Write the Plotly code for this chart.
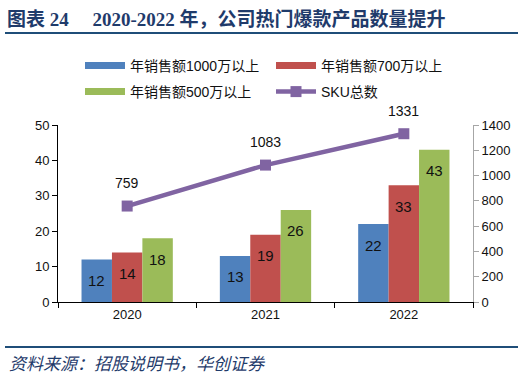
import plotly.graph_objects as go

years = ["2020", "2021", "2022"]
sales_1000 = [12, 13, 22]
sales_700 = [14, 19, 33]
sales_500 = [18, 26, 43]
sku_total = [759, 1083, 1331]

series_names = ["年销售额1000万以上", "年销售额700万以上", "年销售额500万以上"]
line_name = "SKU总数"
colors = ["#4F81BD", "#C0504D", "#9BBB59"]
purple = "#8064A2"

W, H = 524, 378
L, R, T, B = 58, 51, 125, 76
PW, PH = W - L - R, H - T - B


def px(x):
    return (x - L) / PW


def py(y):
    return (H - B - y) / PH


CJK = "Liberation Sans, Noto Sans CJK SC, sans-serif"

fig = go.Figure()
bar_sets = [sales_1000, sales_700, sales_500]
for name, vals, c in zip(series_names, bar_sets, colors):
    fig.add_trace(go.Bar(x=years, y=vals, name=name, marker=dict(color=c, line=dict(width=0)),
                         showlegend=False, yaxis="y"))

fig.add_trace(go.Scatter(x=years, y=sku_total, name=line_name, mode="lines+markers",
                         line=dict(color=purple, width=4.5),
                         marker=dict(symbol="square", size=11, color=purple),
                         yaxis="y2", showlegend=True, legend="legend2"))

# legend proxies (long thick swatches)
for i, (name, c) in enumerate(zip(series_names, colors)):
    fig.add_trace(go.Scatter(x=[None], y=[None], mode="lines", name=name,
                             line=dict(color=c, width=7), yaxis="y",
                             legend="legend" if i < 2 else "legend2",
                             legendrank=i))
fig.data[3].update(legendrank=10)

annotations = []
ngroups = len(bar_sets)
bargap = 0.34
bw = (1 - bargap) / ngroups
for j, vals in enumerate(bar_sets):
    for i, v in enumerate(vals):
        annotations.append(dict(x=i + (j - (ngroups - 1) / 2) * bw, y=v, xref="x", yref="y",
                                text=str(v), showarrow=False, yshift=-21,
                                font=dict(size=15, color="#111111", family="Liberation Sans")))
for i, v in enumerate(sku_total):
    annotations.append(dict(x=i, y=v, xref="x", yref="y2", text=str(v), showarrow=False, yshift=23,
                            font=dict(size=14, color="#111111", family="Liberation Sans")))

annotations.append(dict(x=px(5), y=py(19), xref="paper", yref="paper", xanchor="left", yanchor="middle",
                        text="<b>图表 24　 2020-2022 年，公司热门爆款产品数量提升</b>", showarrow=False,
                        font=dict(size=19, color="#1F3B6B", family="Liberation Serif, Noto Sans CJK SC")))
annotations.append(dict(x=px(7), y=py(362), xref="paper", yref="paper", xanchor="left", yanchor="middle",
                        text="<i>资料来源：招股说明书，华创证券</i>", showarrow=False,
                        font=dict(size=17, color="#1F3B6B", family="Noto Sans CJK SC")))

shapes = [
    dict(type="line", xref="paper", yref="paper", x0=px(5), x1=px(518), y0=py(33), y1=py(33),
         line=dict(color="#1F4E79", width=2)),
    dict(type="line", xref="paper", yref="paper", x0=px(5), x1=px(518), y0=py(347), y1=py(347),
         line=dict(color="#1F4E79", width=2)),
]

fig.update_layout(
    width=W, height=H,
    margin=dict(l=L, r=R, t=T, b=B),
    paper_bgcolor="white", plot_bgcolor="white",
    barmode="group", bargap=bargap, bargroupgap=0,
    font=dict(family=CJK, size=13, color="#111111"),
    xaxis=dict(type="category", showline=True, linecolor="black", linewidth=1,
               ticks="outside", tickson="boundaries", ticklen=5, tickcolor="black",
               tickfont=dict(size=13), showgrid=False),
    yaxis=dict(range=[0, 50], dtick=10, showline=True, linecolor="black", linewidth=1,
               ticks="outside", ticklen=5, tickcolor="black", showgrid=False, zeroline=False,
               tickfont=dict(size=13)),
    yaxis2=dict(range=[0, 1400], dtick=200, overlaying="y", side="right", showline=True,
                linecolor="#A6A6A6", linewidth=1, ticks="outside", ticklen=5, tickcolor="#A6A6A6",
                showgrid=False, zeroline=False, tickfont=dict(size=13)),
    legend=dict(orientation="h", x=px(80), y=py(66), xanchor="left", yanchor="middle",
                entrywidth=136, entrywidthmode="pixels", font=dict(size=14),
                bgcolor="rgba(0,0,0,0)", itemwidth=40, traceorder="normal"),
    legend2=dict(orientation="h", x=px(80), y=py(92), xanchor="left", yanchor="middle",
                 entrywidth=136, entrywidthmode="pixels", font=dict(size=14),
                 bgcolor="rgba(0,0,0,0)", itemwidth=40, traceorder="normal"),
    annotations=annotations,
    shapes=shapes,
    showlegend=True,
)

fig.write_html("out.html", config={"displayModeBar": False},
               post_script="document.body.style.margin='0';")
